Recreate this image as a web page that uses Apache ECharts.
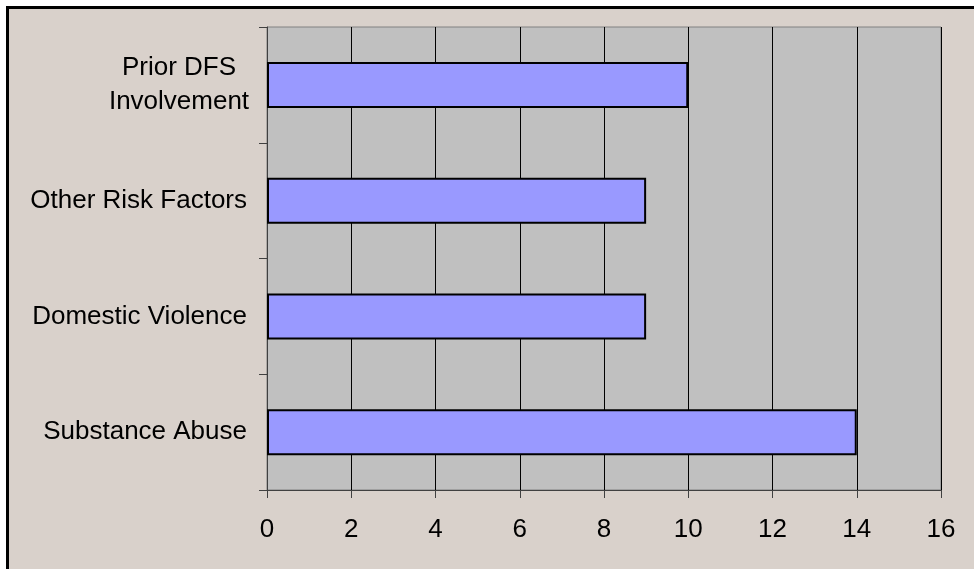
<!DOCTYPE html>
<html>
<head>
<meta charset="utf-8">
<script src="https://cdn.jsdelivr.net/npm/echarts@6/dist/echarts.min.js"></script>
<style>
html,body{margin:0;padding:0;background:#fff;width:974px;height:569px;overflow:hidden;}
#frame{position:absolute;left:6px;top:6px;width:1000px;height:600px;border:3px solid #000;background:#D9D1CB;}
#chart{position:absolute;left:0;top:0;width:974px;height:569px;}
</style>
</head>
<body>
<div id="frame"></div>
<div id="chart"></div>
<script>
const categories = ['Substance Abuse', 'Domestic Violence', 'Other Risk Factors', 'Prior DFS Involvement'];
const values = [14, 9, 9, 10];
const xTicks = [0, 2, 4, 6, 8, 10, 12, 14, 16];

const FONT = '"Liberation Sans", Arial, sans-serif';
const chart = echarts.init(document.getElementById('chart'), null, {renderer: 'canvas'});
chart.setOption({
  backgroundColor: 'transparent',
  animation: false,
  textStyle: {fontFamily: FONT},
  grid: {
    left: 267, top: 27, right: 33, bottom: 79,
    show: true, backgroundColor: '#C0C0C0', borderColor: '#808080', borderWidth: 1
  },
  xAxis: {
    type: 'value',
    min: xTicks[0], max: xTicks[xTicks.length - 1], interval: 2,
    axisLine: {show: true, lineStyle: {color: '#404040', width: 1}},
    axisTick: {show: true, length: 8, lineStyle: {color: '#404040'}},
    splitLine: {show: true, lineStyle: {color: '#000', width: 1}},
    axisLabel: {color: '#000', fontSize: 26, margin: 27, fontFamily: FONT}
  },
  yAxis: {
    type: 'category',
    data: categories,
    axisLine: {show: true, lineStyle: {color: '#404040', width: 1}},
    axisTick: {show: true, length: 8, lineStyle: {color: '#404040'}},
    axisLabel: {
      color: '#000', fontSize: 26, margin: 20,
      fontFamily: FONT,
      formatter: function (v) {
        if (v === 'Prior DFS Involvement') {
          return '{c|Prior DFS}\n{c|Involvement}';
        }
        return v;
      },
      rich: {
        c: {width: 136, align: 'center', fontSize: 26, lineHeight: 34, color: '#000', fontFamily: FONT}
      }
    }
  },
  series: [{
    type: 'bar',
    data: values,
    barWidth: 46,
    itemStyle: {color: '#9999FF', borderColor: '#000', borderWidth: 2}
  }]
});
</script>
</body>
</html>
